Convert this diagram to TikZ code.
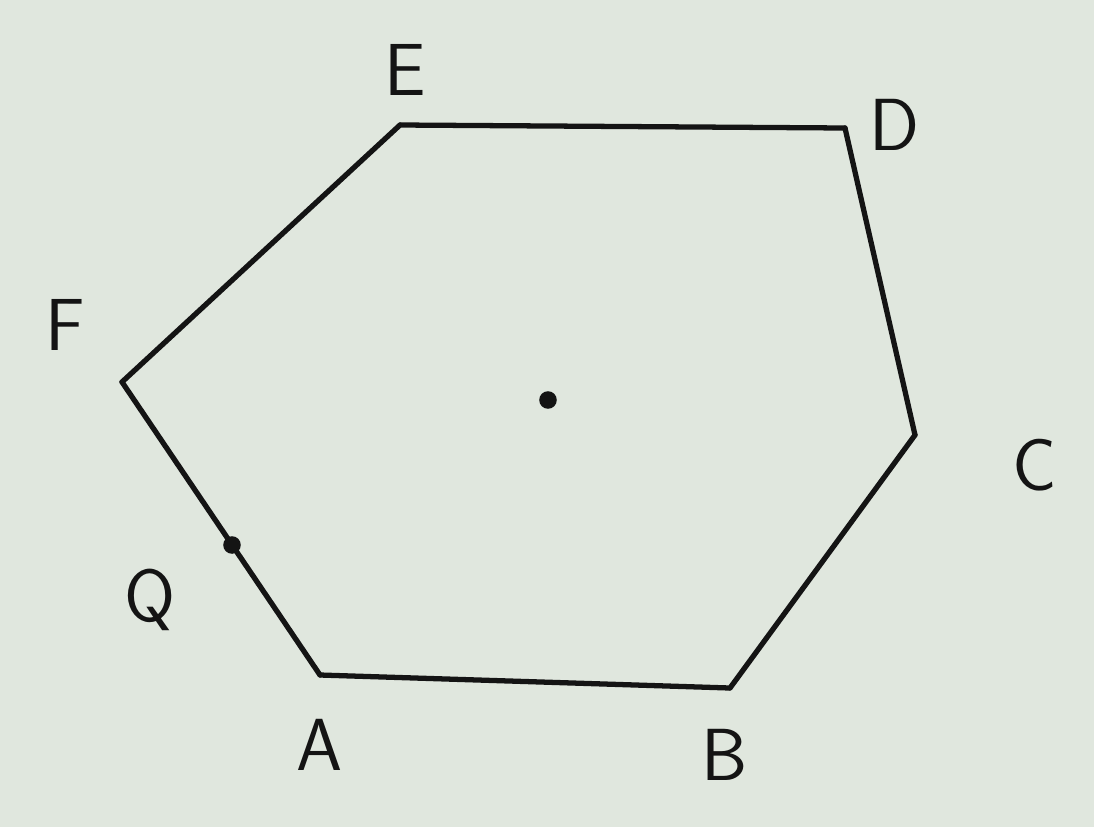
\documentclass[tikz,border=0pt]{standalone}
\usepackage{tikz}
\definecolor{paper}{RGB}{224,231,222}
\definecolor{ink}{RGB}{20,20,20}

\begin{document}
\begin{tikzpicture}[
    every node/.style={font=\fontsize{21}{24}\sffamily, text=ink},
    side/.style={draw=ink, line width=1.5pt, line join=round},
    vertex/.style={circle, fill=ink, inner sep=0pt, minimum size=1.5pt},
    dot/.style={circle, fill=ink, inner sep=0pt, minimum size=5pt}
]
\fill[paper] (0,0) rectangle (10.94,8.27);
\useasboundingbox (0,0) rectangle (10.94,8.27);

\node[vertex] (E) at (4.00,7.02) {};
\node[vertex] (D) at (8.45,6.99) {};
\node[vertex] (C) at (9.15,3.92) {};
\node[vertex] (B) at (7.30,1.39) {};
\node[vertex] (A) at (3.20,1.52) {};
\node[vertex] (F) at (1.22,4.45) {};
\node[dot]    (Q) at (2.32,2.82) {};
\node[dot]    (O) at (5.48,4.27) {};

\draw[side] (E.center) -- (D.center) -- (C.center) -- (B.center)
    -- (A.center) -- (F.center) -- cycle;

\node (lE) at (4.05,7.57) {E};
\node (lD) at (8.95,7.02) {D};
\node (lC) at (10.35,3.62) {C};
\node (lB) at (7.25,0.72) {B};
\node (lA) at (3.20,0.82) {A};
\node (lF) at (0.65,5.02) {F};
\node (lQ) at (1.50,2.27) {Q};

\end{tikzpicture}
\end{document}
